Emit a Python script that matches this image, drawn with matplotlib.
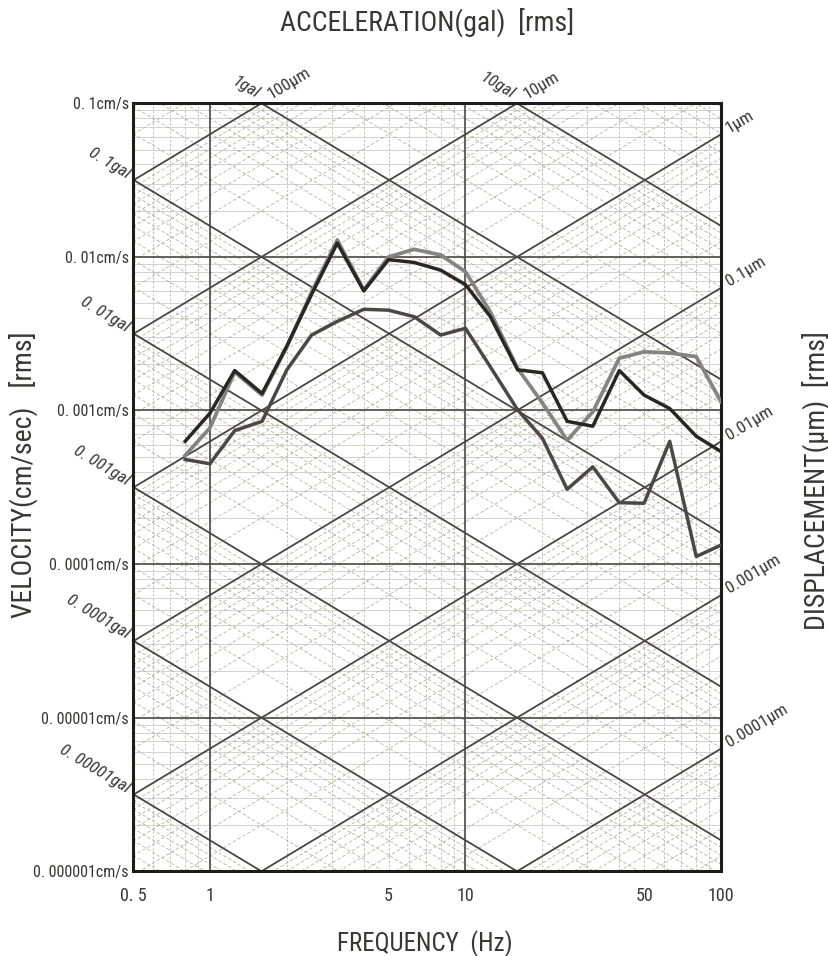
import numpy as np
import matplotlib
matplotlib.use("Agg")
import matplotlib.pyplot as plt
from matplotlib import font_manager
from matplotlib.font_manager import FontProperties

# ---------------- data ----------------
freq = [0.8, 1, 1.25, 1.6, 2, 2.5, 3.15, 4, 5, 6.3, 8, 10, 12.5, 16, 20, 25,
        31.5, 40, 50, 63, 80, 100]
vel_dark = [6.3e-4, 9.6e-4, 1.82e-3, 1.29e-3, 2.63e-3, 5.7e-3, 1.23e-2, 6.0e-3,
            9.6e-3, 9.2e-3, 8.2e-3, 6.6e-3, 4.1e-3, 1.84e-3, 1.76e-3, 8.5e-4,
            7.9e-4, 1.82e-3, 1.26e-3, 1.03e-3, 6.8e-4, 5.4e-4]
vel_gray = [5.1e-4, 7.7e-4, 1.78e-3, 1.26e-3, 2.6e-3, 5.9e-3, 1.29e-2, 6.1e-3,
            1.0e-2, 1.12e-2, 1.03e-2, 8.0e-3, 4.4e-3, 1.88e-3, 1.12e-3, 6.4e-4,
            9.8e-4, 2.19e-3, 2.41e-3, 2.37e-3, 2.24e-3, 1.14e-3]
vel_mid = [4.8e-4, 4.5e-4, 7.4e-4, 8.5e-4, 1.84e-3, 3.1e-3, 3.8e-3, 4.56e-3,
           4.5e-3, 4.08e-3, 3.1e-3, 3.43e-3, 1.93e-3, 1.01e-3, 6.6e-4, 3.07e-4,
           4.3e-4, 2.51e-4, 2.49e-4, 6.3e-4, 1.12e-4, 1.33e-4]

x_ticks = [0.5, 1, 5, 10, 50, 100]
x_ticklabels = ["0. 5", "1", "5", "10", "50", "100"]
vel_ticks = [1e-1, 1e-2, 1e-3, 1e-4, 1e-5, 1e-6]
vel_ticklabels = ["0. 1cm/s", "0. 01cm/s", "0. 001cm/s", "0. 0001cm/s",
                  "0. 00001cm/s", "0. 000001cm/s"]
acc_left = [0.1, 0.01, 0.001, 0.0001, 0.00001]
acc_left_labels = ["0. 1gal", "0. 01gal", "0. 001gal", "0. 0001gal", "0. 00001gal"]
acc_top = [1, 10]
acc_top_labels = ["1gal", "10gal"]
disp_top = [100, 10]          # micrometres
disp_top_labels = ["100μm", "10μm"]
disp_right = [1, 0.1, 0.01, 0.001, 0.0001]
disp_right_labels = ["1μm", "0.1μm", "0.01μm", "0.001μm", "0.0001μm"]

# ---------------- fonts: look for a condensed face ----------------
def find_condensed(italic=False):
    prefs = ["roboto condensed", "liberation sans narrow", "open sans condensed",
             "noto sans condensed", "dejavu sans condensed"]
    cands = []
    for f in font_manager.fontManager.ttflist:
        n = f.name.lower()
        fn = f.fname.lower()
        cond = ("condensed" in n or "narrow" in n or "condensed" in fn
                or "narrow" in fn or str(f.stretch) in ("condensed", "semi-condensed"))
        if not cond:
            continue
        is_it = f.style in ("italic", "oblique") or "italic" in fn or "oblique" in fn
        if is_it != italic:
            continue
        if any(k in fn for k in ("bold", "light", "thin", "medium", "black",
                                  "semibold", "extra")):
            continue
        cands.append(f)
    if not cands:
        return None
    def rank(f):
        key = (f.name + " " + f.fname).lower()
        for i, p in enumerate(prefs):
            if p.split()[0] in key:
                return i
        return 99
    cands.sort(key=rank)
    return cands[0].fname

p_reg = find_condensed(False)
p_it = find_condensed(True)

def fp(size, italic=False):
    path = p_it if italic else p_reg
    if path:
        return FontProperties(fname=path, size=size)
    return FontProperties(family="DejaVu Sans", size=size,
                          style="italic" if italic else "normal", stretch="condensed")

TXT = "#3a3636"
FMIN, FMAX = 0.5, 100
VMIN, VMAX = 1e-6, 1e-1

W, H = 829, 956
fig = plt.figure(figsize=(W / 100, H / 100), dpi=100)
fig.patch.set_facecolor("white")
ax = fig.add_axes([133 / W, 1 - 871.3 / H, 588 / W, (871.3 - 103.3) / H])
ax.set_xscale("log")
ax.set_yscale("log")
ax.set_xlim(FMIN, FMAX)
ax.set_ylim(VMIN, VMAX)

fgrid = np.logspace(np.log10(FMIN), np.log10(FMAX), 50)
twopi = 2 * np.pi
GRID_MINOR = "#aaa49a"
GRID_MAJOR = "#4a4646"

# minor grid: verticals
for dec in [0.1, 1, 10]:
    for m in range(2, 10):
        f = m * dec
        if FMIN < f < FMAX:
            ax.axvline(f, color="#bdb7ae", lw=0.6, ls=(0, (3, 2)), zorder=1)
for f in [1, 10]:
    ax.axvline(f, color=GRID_MAJOR, lw=1.2, zorder=2)

# horizontal minor
for e in range(-6, -1):
    for m in range(2, 10):
        ax.axhline(m * 10.0 ** e, color="#d6d2ca", lw=0.7, zorder=1)
for e in range(-5, -1):
    ax.axhline(10.0 ** e, color=GRID_MAJOR, lw=1.2, zorder=2)

# acceleration diagonals (gal): v = a / (2 pi f)
for e in range(-7, 3):
    for m in range(1, 10):
        a = m * 10.0 ** e
        v = a / (twopi * fgrid)
        if m == 1:
            ax.plot(fgrid, v, color=GRID_MAJOR, lw=1.3, zorder=2)
        else:
            ax.plot(fgrid, v, color=GRID_MINOR, lw=0.5, ls=(0, (5, 3)), zorder=1)

# displacement diagonals (um): v = 2 pi f d, d in cm
for e in range(-6, 4):
    for m in range(1, 10):
        d = m * 10.0 ** e * 1e-4
        v = twopi * fgrid * d
        if m == 1:
            ax.plot(fgrid, v, color=GRID_MAJOR, lw=1.3, zorder=2)
        else:
            ax.plot(fgrid, v, color=GRID_MINOR, lw=0.5, ls=(0, (5, 3)), zorder=1)

# ---------------- data lines ----------------
ax.plot(freq, vel_mid, color="#4b4747", lw=2.5, zorder=5)
ax.plot(freq, vel_gray, color="#868383", lw=2.7, zorder=6)
ax.plot(freq, vel_dark, color="#2a2626", lw=2.5, zorder=7)

# frame
for s in ax.spines.values():
    s.set_linewidth(2.2)
    s.set_color("#1e1b1b")

ax.set_xticks(x_ticks)
ax.set_xticklabels(x_ticklabels, fontproperties=fp(13))
ax.set_yticks(vel_ticks)
ax.set_yticklabels(vel_ticklabels, fontproperties=fp(11.5))
ax.minorticks_off()
ax.tick_params(length=0, colors=TXT, pad=3)
ax.tick_params(axis="x", pad=11)

ang = np.degrees(np.arctan(153.6 / 255.5))

# acceleration labels on left edge
for a, lab in zip(acc_left, acc_left_labels):
    v = a / (twopi * FMIN)
    ax.annotate(lab, xy=(FMIN, v), xytext=(-6, -1), textcoords="offset points",
                ha="right", va="bottom", rotation=-ang, rotation_mode="anchor",
                fontproperties=fp(12.5, True), color=TXT, annotation_clip=False)

# labels along top edge
for a, lab in zip(acc_top, acc_top_labels):
    f = a / (twopi * VMAX)
    ax.annotate(lab, xy=(f, VMAX), xytext=(-5, 1), textcoords="offset points",
                ha="right", va="bottom", rotation=-ang, rotation_mode="anchor",
                fontproperties=fp(12.5, True), color=TXT, annotation_clip=False)
for d, lab in zip(disp_top, disp_top_labels):
    f = VMAX / (twopi * d * 1e-4)
    ax.annotate(lab, xy=(f, VMAX), xytext=(8, 1), textcoords="offset points",
                ha="left", va="bottom", rotation=ang, rotation_mode="anchor",
                fontproperties=fp(12.5), color=TXT, annotation_clip=False)

# displacement labels on right edge
for d, lab in zip(disp_right, disp_right_labels):
    v = twopi * FMAX * d * 1e-4
    ax.annotate(lab, xy=(FMAX, v), xytext=(7, -1), textcoords="offset points",
                ha="left", va="bottom", rotation=ang, rotation_mode="anchor",
                fontproperties=fp(12.5), color=TXT, annotation_clip=False)

# axis titles
fig.text(427 / W, 1 - 22 / H, "ACCELERATION(gal)  [rms]", ha="center", va="center",
         fontproperties=fp(20), color=TXT)
fig.text(425 / W, 1 - 944 / H, "FREQUENCY  (Hz)", ha="center", va="center",
         fontproperties=fp(18), color=TXT)
fig.text(23 / W, 1 - 475 / H, "VELOCITY(cm/sec)   [rms]", ha="center", va="center",
         rotation=90, fontproperties=fp(20), color=TXT)
fig.text(816 / W, 1 - 481 / H, "DISPLACEMENT(μm)  [rms]", ha="center", va="center",
         rotation=90, fontproperties=fp(20), color=TXT)

fig.savefig("out.png", dpi=100, facecolor="white")
